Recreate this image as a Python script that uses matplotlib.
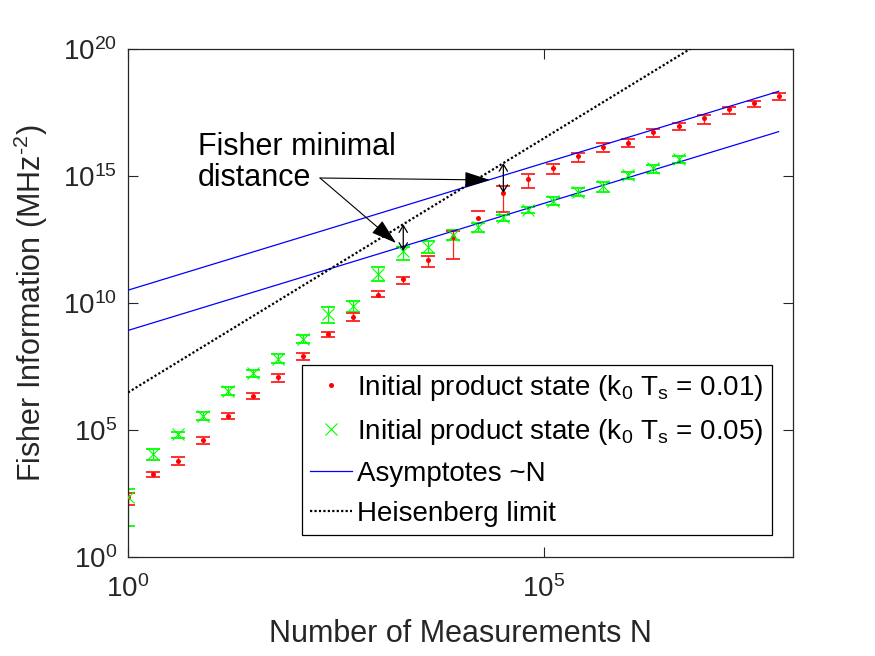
import numpy as np
import matplotlib
matplotlib.use("Agg")
import matplotlib.pyplot as plt
from matplotlib.ticker import FixedLocator, FuncFormatter, NullLocator

plt.rcParams['font.family'] = ['Liberation Sans', 'DejaVu Sans']
plt.rcParams['mathtext.fontset'] = 'custom'
plt.rcParams['mathtext.rm'] = 'Liberation Sans'
plt.rcParams['mathtext.it'] = 'Liberation Sans:italic'
plt.rcParams['mathtext.bf'] = 'Liberation Sans:bold'
plt.rcParams['mathtext.sf'] = 'Liberation Sans'

# ---------------- data ----------------
N_red = [1, 2, 4, 8, 16, 32, 64, 128, 256, 512, 1024, 2048, 4096, 8192, 16384,
         32768, 65536, 131072, 262144, 524288, 1048576, 2097152, 4194304,
         8388608, 16777216, 33554432, 67108864]
red_log10 = [2.37, 3.27, 3.79, 4.59, 5.56, 6.32, 7.09, 7.91, 8.78, 9.45, 10.31,
             10.94, 11.69, 12.60, 13.35, 14.33, 14.88, 15.31, 15.79, 16.14,
             16.30, 16.73, 16.97, 17.28, 17.64, 17.87, 18.15]
red_hi_log10 = [2.53, 3.35, 3.94, 4.72, 5.67, 6.46, 7.20, 8.03, 8.86, 9.61, 10.47,
                11.02, 11.85, 12.83, 13.62, 14.61, 15.08, 15.47, 15.91, 16.30,
                16.46, 16.85, 17.09, 17.40, 17.72, 17.95, 18.27]
red_lo_log10 = [2.04, 3.15, 3.62, 4.45, 5.43, 6.22, 6.89, 7.76, 8.66, 9.29, 10.24,
                10.75, 11.42, 11.73, np.nan, 13.58, 14.53, 15.08, 15.55, 15.94,
                16.14, 16.54, 16.81, 17.05, 17.44, 17.72, 17.99]

N_green = N_red[:23]
green_log10 = [2.36, 4.06, 4.83, 5.55, 6.54, 7.24, 7.80, 8.58, 9.57, 9.88, 11.14,
               12.05, 12.20, 12.68, 12.99, 13.39, 13.66, 14.02, 14.37, 14.61,
               15.04, 15.31, 15.67]
green_hi_log10 = [2.68, 4.25, 4.92, 5.71, 6.69, 7.36, 7.99, 8.74, 9.84, 10.08, 11.42,
                  12.20, 12.44, 12.87, 13.15, 13.46, 13.78, 14.17, 14.53, 14.76,
                  15.16, 15.43, 15.79]
green_lo_log10 = [1.23, 3.82, 4.69, 5.39, 6.38, 7.09, 7.64, 8.43, 9.21, 9.65, 10.87,
                  11.69, 11.97, 12.48, 12.80, 13.23, 13.54, 13.86, 14.21, 14.37,
                  14.88, 15.12, 15.51]

# asymptotes F = c*N and Heisenberg limit F = h*N^2
asym_upper_coef = 3.2e10
asym_lower_coef = 8.3e8
heis_coef = 3.0e6

labels = [r'Initial product state (k$_\mathregular{0}$ T$_\mathregular{s}$ = 0.01)',
          r'Initial product state (k$_\mathregular{0}$ T$_\mathregular{s}$ = 0.05)',
          'Asymptotes ~N',
          'Heisenberg limit']
xticks = [1, 1e5]
yticks = [1, 1e5, 1e10, 1e15, 1e20]

# ---------------- figure ----------------
W, H = 875, 656
fig = plt.figure(figsize=(W / 100, H / 100), dpi=100)
ax = fig.add_axes([128 / W, (H - 557) / H, 665 / W, 508 / H])
grey = '#262626'

Nr = np.array(N_red, float)
Ng = np.array(N_green, float)
yr = 10 ** np.array(red_log10)
yg = 10 ** np.array(green_log10)
yr_hi = 10 ** np.array(red_hi_log10)
yr_lo = 10 ** np.array(red_lo_log10)
yg_hi = 10 ** np.array(green_hi_log10)
yg_lo = 10 ** np.array(green_lo_log10)

# error bars
ax.errorbar(Ng, yg, yerr=[yg - yg_lo, yg_hi - yg], fmt='none', ecolor='#00ff00',
            elinewidth=0.9, capsize=4.7, capthick=1.3, zorder=2)
ax.errorbar(Nr, yr, yerr=[yr - yr_lo, yr_hi - yr], fmt='none', ecolor='#ff2020',
            elinewidth=0.9, capsize=4.7, capthick=1.3, zorder=2)

h1, = ax.plot(Nr, yr, linestyle='none', marker='o', ms=3.6, mfc='#ff0000',
              mec='#ff0000', mew=0, zorder=4)
h2, = ax.plot(Ng, yg, linestyle='none', marker='x', ms=8, mec='#00ff00',
              mew=0.8, zorder=4)

h3, = ax.plot(Nr, asym_upper_coef * Nr, color='#0000ff', lw=0.9, zorder=3)
ax.plot(Nr, asym_lower_coef * Nr, color='#0000ff', lw=0.9, zorder=3)
h4, = ax.plot(Nr, heis_coef * Nr ** 2, color='black', lw=1.6,
              linestyle=(0, (1.0, 1.0)), zorder=3)

ax.set_xscale('log')
ax.set_yscale('log')
ax.set_xlim(1, 1e8)
ax.set_ylim(1, 1e20)

ax.xaxis.set_major_locator(FixedLocator(xticks))
ax.yaxis.set_major_locator(FixedLocator(yticks))
ax.xaxis.set_minor_locator(NullLocator())
ax.yaxis.set_minor_locator(NullLocator())
fmt = FuncFormatter(lambda v, p: r'$\mathregular{10^{%d}}$' % int(round(np.log10(v))))
ax.xaxis.set_major_formatter(fmt)
ax.yaxis.set_major_formatter(fmt)

ax.tick_params(which='both', direction='in', top=True, right=True, length=7,
               width=0.8, color=grey, labelcolor=grey, labelsize=20)
ax.tick_params(axis='x', pad=13)
ax.tick_params(axis='y', pad=8)
for s in ax.spines.values():
    s.set_color(grey)
    s.set_linewidth(0.9)

ax.set_xlabel('Number of Measurements N', fontsize=22, color=grey)
ax.set_ylabel(r'Fisher Information (MHz$^{\text{-2}}$)', fontsize=22, color=grey)
ax.xaxis.set_label_coords(0.5, -0.122)
ax.yaxis.set_label_coords(-0.118, 0.5)

leg = ax.legend([h1, h2, h3, h4], labels, loc='lower right',
                bbox_to_anchor=(0.968, 0.043), fontsize=20, frameon=True,
                fancybox=False, framealpha=1, edgecolor='black',
                handlelength=1.5, handletextpad=0.2, borderpad=0.3,
                labelspacing=0.5, borderaxespad=0)
leg.get_frame().set_linewidth(0.9)

# double-headed arrows: Heisenberg limit -> data point
k_g, k_r = 11, 15
for N, y in [(Ng[k_g], yg[k_g]), (Nr[k_r], yr[k_r])]:
    ax.annotate('', xy=(N, heis_coef * N ** 2), xytext=(N, y),
                arrowprops=dict(arrowstyle='<->,head_length=0.5,head_width=0.3',
                                color='black', lw=0.9, shrinkA=0, shrinkB=0),
                zorder=6)

# text arrow annotation
def ff(px, py):
    return (px / W, 1 - py / H)

fig.text(198 / W, 1 - 132 / H, 'Fisher minimal\ndistance', fontsize=22,
         color='black', ha='left', va='top', linespacing=1.03)
for tip in [(490, 180), (396, 243)]:
    ax.annotate('', xy=ff(*tip), xycoords='figure fraction',
                xytext=ff(320, 178), textcoords='figure fraction',
                arrowprops=dict(arrowstyle='-|>,head_length=1.6,head_width=0.5',
                                color='black', lw=0.8, shrinkA=0, shrinkB=0,
                                mutation_scale=10),
                annotation_clip=False, zorder=7)

fig.savefig('out.png', dpi=100)
